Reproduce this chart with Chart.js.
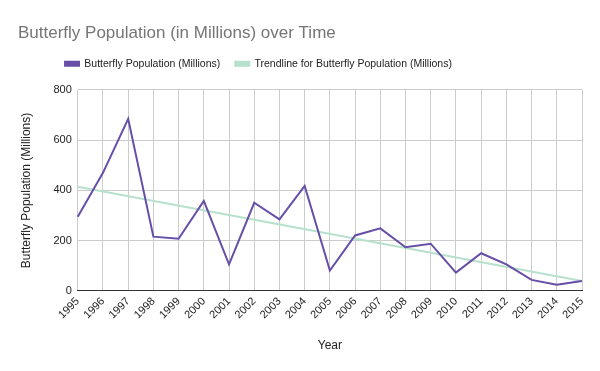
<!DOCTYPE html>
<html>
<head>
<meta charset="UTF-8">
<title>butterfly.html</title>
<style>
body{
	margin: 0;
	background-color: white;
}
#wrap{
	width: 600px;
	height: 371px;
}
</style>
</head>
<body>
<div id="wrap"><canvas id="myChart"></canvas></div>
<script src="https://cdn.jsdelivr.net/npm/chart.js@4"></script>
<script>
// 데이터
const years = ['1995','1996','1997','1998','1999','2000','2001','2002','2003','2004','2005','2006','2007','2008','2009','2010','2011','2012','2013','2014','2015'];
const population = [295,470,685,216,208,358,106,351,285,418,81,221,249,174,188,73,150,106,44,25,40];
// 추세선: 양 끝 값만 읽음, 가운데는 spanGaps로 연결
const trend = [415,null,null,null,null,null,null,null,null,null,null,null,null,null,null,null,null,null,null,null,40];
const yTicks = [0,200,400,600,800];

// 범례/제목 위치 조정 (범례 왼쪽 이동, 아래 여백 추가)
const legendShift = {
	id:'legendShift',
	beforeLayout:function(chart){
		const lg = chart.legend;
		if(lg && !lg._patched){
			const origFit = lg.fit;
			lg.fit = function(){
				origFit.call(this);
				this.height += 11;
			};
			lg._patched = true;
		}
	},
	beforeDraw:function(chart){
		if(!chart.legend._shifted){
			chart.legend.right = chart.legend.right - 80;
			chart.legend._shifted = true;
		}
		if(chart.titleBlock && !chart.titleBlock._shifted){
			chart.titleBlock.left = chart.titleBlock.left + 3;
			chart.titleBlock._shifted = true;
		}
	}
};

Chart.defaults.font.family = '"Liberation Sans", Arial, sans-serif';

const ctx = document.getElementById('myChart').getContext('2d');
const chart = new Chart(ctx,{
	type:'line',
	data:{
		labels:years,
		datasets:[{
			label:'Butterfly Population (Millions)',
			data:population,
			borderColor:'#674ea7',
			backgroundColor:'#674ea7',
			borderWidth:2,
			pointRadius:0,
			tension:0
		},{
			label:'Trendline for Butterfly Population (Millions)',
			data:trend,
			borderColor:'#b7e1cd',
			backgroundColor:'#b7e1cd',
			borderWidth:2,
			pointRadius:0,
			spanGaps:true
		}]
	},
	options:{
		responsive:true,
		maintainAspectRatio:false,
		animation:false,
		layout:{padding:{left:15,right:18,top:23,bottom:14}},
		plugins:{
			title:{
				display:true,
				text:'Butterfly Population (in Millions) over Time',
				align:'start',
				color:'#757575',
				font:{size:17,weight:'normal'},
				padding:{top:0,bottom:0}
			},
			legend:{
				display:true,
				labels:{
					boxWidth:14,
					boxHeight:4,
					color:'#222',
					font:{size:10.5},
					padding:15
				}
			},
			tooltip:{enabled:false}
		},
		scales:{
			x:{
				grid:{color:'#cccccc',drawTicks:false},
				border:{color:'#333333',width:1},
				ticks:{color:'#222',font:{size:11},minRotation:45,maxRotation:45,autoSkip:false,padding:4},
				title:{display:true,text:'Year',color:'#222',font:{size:12},padding:{top:13}}
			},
			y:{
				min:0,
				max:800,
				afterBuildTicks:function(axis){
					axis.ticks = yTicks.map(function(v){return {value:v};});
				},
				grid:{color:'#cccccc',drawTicks:false},
				border:{display:false},
				ticks:{color:'#222',font:{size:11},padding:6},
				title:{display:true,text:'Butterfly Population (Millions)',color:'#222',font:{size:12},padding:{bottom:14}}
			}
		}
	},
	plugins:[legendShift]
});
</script>
</body>
</html>
